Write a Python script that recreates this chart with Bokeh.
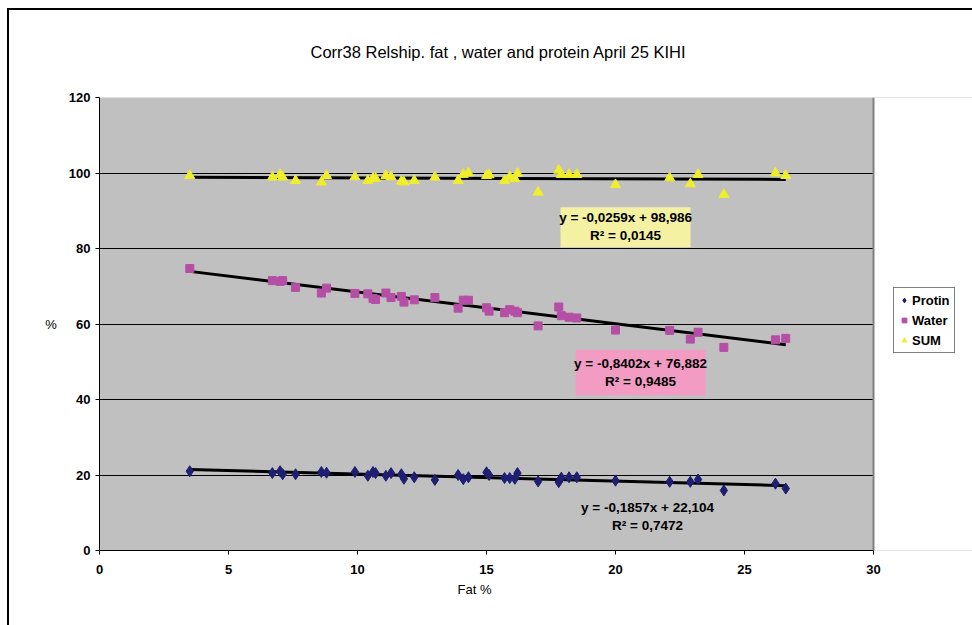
from bokeh.plotting import figure
from bokeh.models import Range1d, Label, BoxAnnotation, Legend, LegendItem, FixedTicker, Title, Div, Span
from bokeh.layouts import column
from bokeh.embed import file_html
from bokeh.resources import INLINE

# ---- data ----
fat = [3.5, 6.7, 7.0, 7.1, 7.6, 8.6, 8.8, 9.9, 10.4, 10.6, 10.7, 11.1, 11.3, 11.7, 11.8,
       12.2, 13.0, 13.9, 14.1, 14.3, 15.0, 15.1, 15.7, 15.9, 16.1, 16.2, 17.0, 17.8, 17.9,
       18.2, 18.5, 20.0, 22.1, 22.9, 23.2, 24.2, 26.2, 26.6]
protin = [21.0, 20.5, 21.0, 20.2, 20.2, 20.8, 20.6, 20.8, 19.8, 20.8, 20.5, 19.8, 20.5, 20.2, 19.0,
          19.4, 18.7, 20.0, 18.9, 19.4, 20.7, 20.0, 19.2, 19.2, 19.0, 20.5, 18.3, 18.1, 19.3,
          19.4, 19.4, 18.5, 18.2, 18.2, 18.8, 15.9, 17.7, 16.4]
water = [74.7, 71.5, 71.3, 71.5, 69.7, 68.2, 69.5, 68.1, 68.0, 66.8, 66.5, 68.2, 67.0, 67.3, 65.8,
         66.4, 67.0, 64.2, 66.3, 66.3, 64.3, 63.4, 63.0, 63.8, 63.4, 63.0, 59.5, 64.5, 62.2,
         61.8, 61.6, 58.4, 58.3, 56.0, 57.8, 53.8, 55.8, 56.2]
total = [99.3, 98.9, 99.6, 98.9, 98.0, 97.6, 99.3, 99.0, 98.0, 98.6, 98.6, 99.3, 99.0, 97.8, 97.6,
         98.0, 98.9, 98.0, 99.6, 100.0, 99.3, 99.5, 98.0, 99.0, 98.5, 99.9, 94.9, 100.7, 99.6,
         99.6, 99.6, 96.9, 98.7, 97.1, 99.6, 94.3, 100.0, 99.3]

series_names = ["Protin", "Water", "SUM"]
slopes = [-0.1857, -0.8402, -0.0259]
intercepts = [22.104, 76.882, 98.986]
r2_values = ["0,7472", "0,9485", "0,0145"]
eq_texts = ["y = -0,1857x + 22,104", "y = -0,8402x + 76,882", "y = -0,0259x + 98,986"]

x_ticks = [0, 5, 10, 15, 20, 25, 30]
y_ticks = [0, 20, 40, 60, 80, 100, 120]
X_MAX, Y_MAX = 30, 120

FONT = "Liberation Sans"

# frame spans to the right canvas edge so the legend can live inside it;
# the x scale is chosen so that X_MAX lands where the plot area ends (774 px of 873).
p = figure(width=972, height=625, output_backend="svg", toolbar_location=None,
           x_range=Range1d(0, X_MAX * 873 / 774), y_range=Range1d(0, Y_MAX),
           min_border_left=99, min_border_right=0, min_border_top=97, min_border_bottom=75,
           background_fill_color="#C0C0C0", border_fill_color="white")
p.outline_line_color = None

p.title = Title(text="Corr38 Relship. fat , water and protein April 25 KIHI", align="left",
                text_font=FONT, text_font_size="16.5px", text_font_style="normal",
                text_color="black", standoff=73, offset=211)

# axes
p.xaxis.ticker = FixedTicker(ticks=x_ticks)
p.yaxis.ticker = FixedTicker(ticks=y_ticks)
p.xaxis.bounds = (0, X_MAX)
for ax in (p.xaxis[0], p.yaxis[0]):
    ax.axis_line_color = "black"
    ax.axis_line_width = 1
    ax.major_tick_line_color = "black"
    ax.major_tick_out = 4
    ax.major_tick_in = 0
    ax.minor_tick_line_color = None
    ax.major_label_text_font = FONT
    ax.major_label_text_font_size = "13px"
    ax.major_label_text_font_style = "bold"
    ax.major_label_text_color = "black"
    ax.axis_label_text_font = FONT
    ax.axis_label_text_font_size = "13px"
    ax.axis_label_text_font_style = "normal"
    ax.axis_label_text_color = "black"
p.xaxis.major_label_standoff = 10
p.yaxis.axis_label = "%"
p.yaxis.axis_label_orientation = "horizontal"
p.yaxis.major_label_standoff = 5
p.yaxis.axis_label_standoff = 9

# x-axis title, centred under the plot area (not under the whole frame)
p.add_layout(Title(text="Fat %", align="left", offset=358, standoff=6,
                   text_font=FONT, text_font_size="13px", text_font_style="normal",
                   text_color="black"), "below")

p.xgrid.grid_line_color = None
p.ygrid.grid_line_color = "black"
p.ygrid.grid_line_width = 1

# white area right of the plot area (where the legend sits)
p.add_layout(BoxAnnotation(left=X_MAX, fill_color="white", fill_alpha=1, line_color=None,
                           level="underlay"))
p.add_layout(Span(location=X_MAX, dimension="height", line_color="#808080", line_width=2,
                  level="underlay"))

# equation boxes (behind text)
p.add_layout(BoxAnnotation(left=17.87, right=22.91, top=90.9, bottom=80.3,
                           fill_color="#F4F2A2", fill_alpha=1, line_color=None, level="underlay"))
p.add_layout(BoxAnnotation(left=18.45, right=23.49, top=53.2, bottom=41.1,
                           fill_color="#F29CC4", fill_alpha=1, line_color=None, level="underlay"))

# trendlines
xmin, xmax = min(fat), max(fat)
for s, b in zip(slopes, intercepts):
    p.line([xmin, xmax], [s * xmin + b, s * xmax + b], line_color="black", line_width=3)

# scatter series
r_p = p.scatter(fat, protin, marker="diamond", size=11, fill_color="#1E1E72", line_color="#1E1E72")
r_w = p.scatter(fat, water, marker="square", size=8, fill_color="#B54FA5", line_color="#B54FA5")
r_s = p.scatter(fat, total, marker="triangle", size=10, fill_color="#F0EE2A", line_color="#F0EE2A")

# equation labels
label_pos = [(21.24, 11.4, 6.6), (20.97, 49.5, 44.8), (20.39, 88.2, 83.4)]
for (lx, y1, y2), eq, r2 in zip(label_pos, eq_texts, r2_values):
    for yy, txt in ((y1, eq), (y2, "R² = " + r2)):
        p.add_layout(Label(x=lx, y=yy, text=txt, text_align="center", text_baseline="middle",
                           text_font=FONT, text_font_size="13.5px", text_font_style="bold",
                           text_color="black"))

legend = Legend(items=[LegendItem(label=series_names[0], renderers=[r_p]),
                       LegendItem(label=series_names[1], renderers=[r_w]),
                       LegendItem(label=series_names[2], renderers=[r_s])],
                location=(794, 197), orientation="vertical",
                label_text_font=FONT, label_text_font_size="13px", label_text_font_style="bold",
                label_text_color="black", glyph_width=12, glyph_height=16, label_height=16,
                label_standoff=2, spacing=4, padding=4, margin=0,
                border_line_color="black", border_line_width=1,
                background_fill_color="white", background_fill_alpha=1)
p.add_layout(legend)

# outer chart-area border (fixed-position overlay, no text)
frame_div = Div(text='<div style="position:fixed;left:7px;top:8px;width:3000px;height:3000px;'
                     'border-left:2px solid black;border-top:2px solid black;'
                     'pointer-events:none;"></div>', width=1, height=1)

layout = column(p, frame_div, spacing=0)
open("out.html", "w").write(file_html(layout, INLINE))
